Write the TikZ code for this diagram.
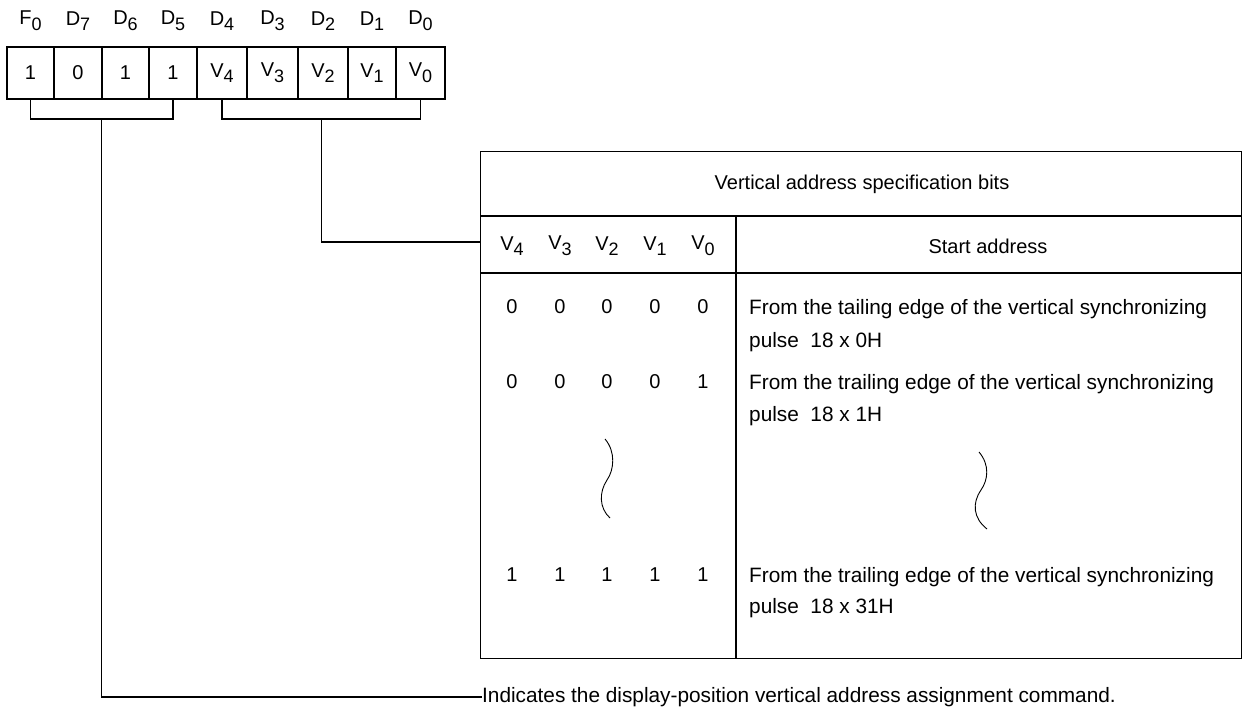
\documentclass[tikz,border=0pt]{standalone}
\usepackage{fontspec}
\setmainfont{Liberation Sans}
\usetikzlibrary{calc}
\newcommand{\sbx}[2]{#1\raisebox{-0.28em}{\fontsize{18}{18}\selectfont #2}}
\begin{document}
\begin{tikzpicture}[x=1pt,y=-1pt,
  every node/.style={inner sep=0pt, font=\fontsize{20}{24}\selectfont},
  ln/.style={line width=1.3pt},
  cell/.style={draw, line width=1.3pt, minimum height=52pt},
  txt/.style={anchor=west, font=\fontsize{20.8}{24}\selectfont}]
\useasboundingbox (0,0) rectangle (1246,711);
% register
\foreach \a/\b/\t/\l [count=\i] in {7/54/1/{\sbx{F}{0}},54/102/0/{\sbx{D}{7}},102/149/1/{\sbx{D}{6}},149/197/1/{\sbx{D}{5}},197/247/{\sbx{V}{4}}/{\sbx{D}{4}},247/298/{\sbx{V}{3}}/{\sbx{D}{3}},298/348/{\sbx{V}{2}}/{\sbx{D}{2}},348/396/{\sbx{V}{1}}/{\sbx{D}{1}},396/445/{\sbx{V}{0}}/{\sbx{D}{0}}}{
  \pgfmathsetmacro\w{\b-\a}
  \node[cell, minimum width=\w pt] (b\i) at ({(\a+\b)/2},73) {\t};
  \node (l\i) at ({(\a+\b)/2},21) {\l};
}
% brackets
\draw[ln] (b1.south) -- (b1.south |- 0,119) -- (b4.south |- 0,119) -- (b4.south);
\draw[ln] (b5.south) -- (b5.south |- 0,119) -- (b9.south |- 0,119) -- (b9.south);
\coordinate (s1) at ($(b1.south |- 0,119)!0.5!(b4.south |- 0,119)$);
\coordinate (s2) at ($(b5.south |- 0,119)!0.5!(b9.south |- 0,119)$);
% table
\node[draw, line width=1.3pt, minimum width=761pt, minimum height=507pt, anchor=north west] (tbl) at (480,151) {};
\draw[ln] (tbl.west |- 0,216) -- (tbl.east |- 0,216);
\draw[ln] (tbl.west |- 0,273) -- (tbl.east |- 0,273);
\draw[ln] (736,216) -- (tbl.south -| 736,0);
\node (hd) at (862,184) {Vertical address specification bits};
\foreach \x/\t [count=\i] in {512/{\sbx{V}{4}},560/{\sbx{V}{3}},607/{\sbx{V}{2}},655/{\sbx{V}{1}},703/{\sbx{V}{0}}}{
  \node (c\i) at (\x,246) {\t};
}
\node (sa) at (988,246) {Start address};
% rows
\foreach \x [count=\i] in {512,560,607,655,703}{
  \node (ra\i) at (\x,307) {0};
  \node (rb\i) at (\x,382) {\ifnum\i=5 1\else 0\fi};
  \node (rc\i) at (\x,575) {1};
}
\node[txt] (ta1) at (749,309) {From the tailing edge of the vertical synchronizing};
\node[txt] (ta2) at (749,342) {pulse\ \ 18 x 0H};
\node[txt] (tb1) at (749,384) {From the trailing edge of the vertical synchronizing};
\node[txt] (tb2) at (749,416) {pulse\ \ 18 x 1H};
\node[txt] (tc1) at (749,577) {From the trailing edge of the vertical synchronizing};
\node[txt] (tc2) at (749,608) {pulse\ \ 18 x 31H};
% omission marks
\draw[line width=0.9pt] (605,439) .. controls (616,452) and (614,470) .. (607,480) .. controls (599,492) and (599,508) .. (610,518);
\draw[line width=0.9pt] (979,452) .. controls (990,465) and (988,480) .. (981,490) .. controls (972,503) and (973,518) .. (987,529);
% connectors
\node[anchor=west, font=\fontsize{20.8}{24}\selectfont] (note) at (482,697) {Indicates the display-position vertical address assignment command.};
\draw[ln] (s2) |- (tbl.west |- 0,242);
\draw[ln] (s1) |- (note.west);
\end{tikzpicture}
\end{document}
